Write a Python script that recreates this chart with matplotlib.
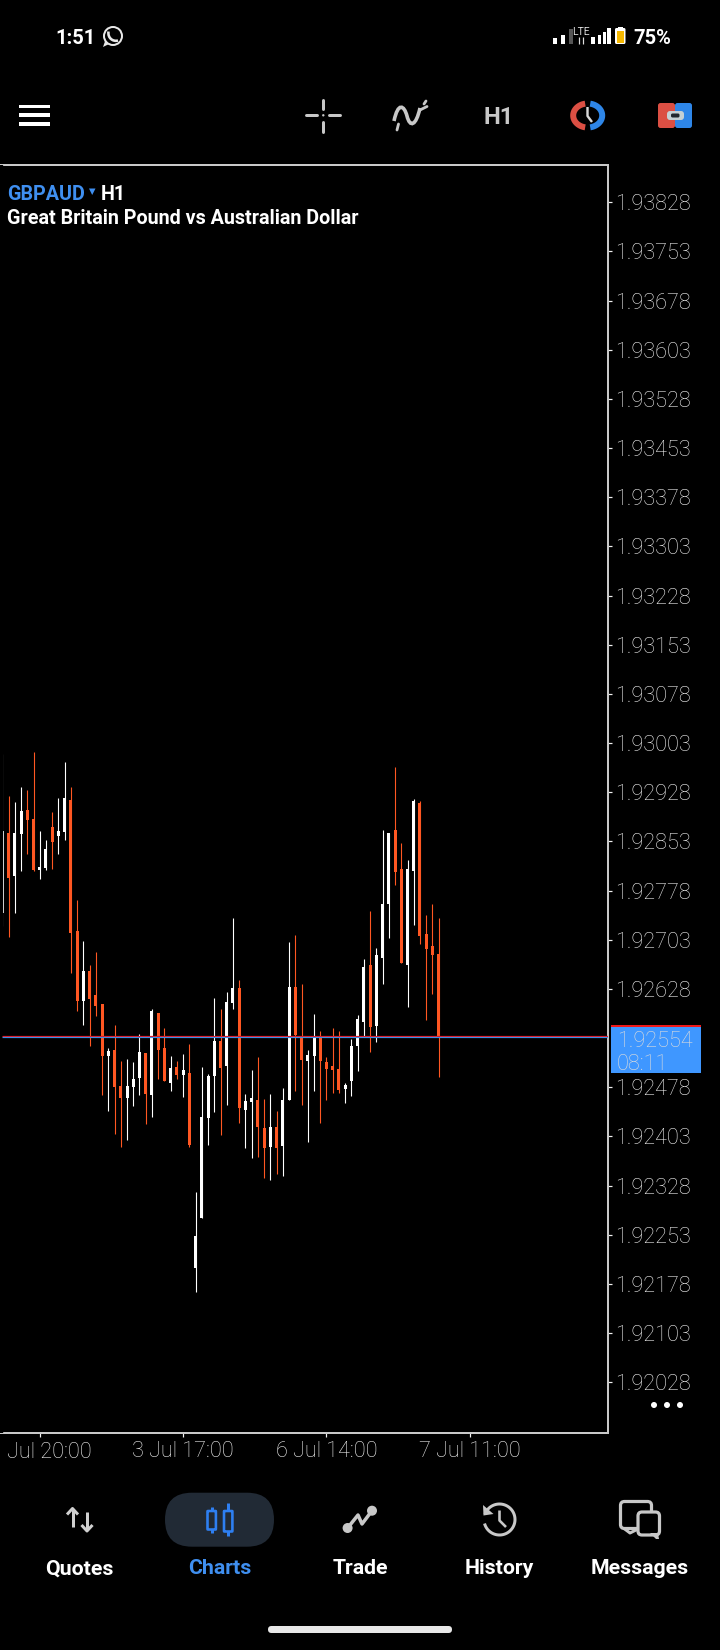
import numpy as np
import matplotlib
matplotlib.use("Agg")
import matplotlib.pyplot as plt
from matplotlib.patches import Circle, FancyBboxPatch, Rectangle, Polygon, PathPatch
from matplotlib.path import Path

plt.rcParams['font.family'] = ['Roboto', 'DejaVu Sans']

# hourly GBPAUD candles
opens = [1.92744, 1.92866, 1.92800, 1.92864, 1.92901, 1.92887, 1.92809, 1.92812, 1.92875, 1.92861,
         1.92867, 1.92916, 1.92716, 1.92610, 1.92655, 1.92619, 1.92605, 1.92526, 1.92535, 1.92480,
         1.92461, 1.92478, 1.92492, 1.92530, 1.92466, 1.92591, 1.92538, 1.92484, 1.92509, 1.92497,
         1.92500, 1.92202, 1.92278, 1.92431, 1.92495, 1.92549, 1.92510, 1.92607, 1.92630, 1.92444,
         1.92456, 1.92459, 1.92416, 1.92387, 1.92418, 1.92389, 1.92459, 1.92631, 1.92557, 1.92518,
         1.92526, 1.92553, 1.92517, 1.92511, 1.92506, 1.92476, 1.92488, 1.92541, 1.92578, 1.92665,
         1.92572, 1.92676, 1.92757, 1.92871, 1.92811, 1.92665, 1.92808, 1.92911, 1.92712, 1.92694,
         1.92682]
highs = [1.92986, 1.92922, 1.92913, 1.92936, 1.92931, 1.92989, 1.92869, 1.92855, 1.92898, 1.92919,
         1.92974, 1.92936, 1.92764, 1.92701, 1.92665, 1.92684, 1.92605, 1.92538, 1.92573, 1.92518,
         1.92521, 1.92516, 1.92559, 1.92530, 1.92597, 1.92591, 1.92568, 1.92526, 1.92518, 1.92529,
         1.92544, 1.92318, 1.92509, 1.92498, 1.92614, 1.92597, 1.92623, 1.92737, 1.92642, 1.92468,
         1.92505, 1.92524, 1.92460, 1.92468, 1.92442, 1.92477, 1.92700, 1.92711, 1.92636, 1.92535,
         1.92590, 1.92564, 1.92524, 1.92569, 1.92564, 1.92485, 1.92552, 1.92589, 1.92674, 1.92747,
         1.92691, 1.92871, 1.92866, 1.92967, 1.92850, 1.92824, 1.92918, 1.92914, 1.92741, 1.92757,
         1.92737]
lows = [1.92724, 1.92707, 1.92744, 1.92808, 1.92834, 1.92808, 1.92796, 1.92809, 1.92811, 1.92834,
        1.92855, 1.92652, 1.92594, 1.92573, 1.92541, 1.92587, 1.92466, 1.92442, 1.92407, 1.92387,
        1.92397, 1.92449, 1.92466, 1.92422, 1.92433, 1.92490, 1.92487, 1.92472, 1.92490, 1.92463,
        1.92387, 1.92166, 1.92278, 1.92390, 1.92440, 1.92405, 1.92451, 1.92598, 1.92424, 1.92386,
        1.92370, 1.92372, 1.92340, 1.92337, 1.92346, 1.92343, 1.92459, 1.92473, 1.92451, 1.92395,
        1.92473, 1.92424, 1.92459, 1.92470, 1.92470, 1.92454, 1.92464, 1.92503, 1.92557, 1.92532,
        1.92547, 1.92635, 1.92706, 1.92786, 1.92667, 1.92601, 1.92726, 1.92697, 1.92580, 1.92621,
        1.92494]
closes = [1.92869, 1.92797, 1.92866, 1.92899, 1.92886, 1.92809, 1.92814, 1.92841, 1.92852, 1.92869,
          1.92919, 1.92713, 1.92610, 1.92655, 1.92613, 1.92602, 1.92526, 1.92533, 1.92478, 1.92461,
          1.92480, 1.92490, 1.92532, 1.92468, 1.92594, 1.92535, 1.92487, 1.92507, 1.92497, 1.92504,
          1.92390, 1.92251, 1.92433, 1.92495, 1.92549, 1.92507, 1.92608, 1.92630, 1.92447, 1.92457,
          1.92460, 1.92418, 1.92386, 1.92418, 1.92386, 1.92459, 1.92631, 1.92558, 1.92520, 1.92528,
          1.92555, 1.92518, 1.92506, 1.92505, 1.92474, 1.92480, 1.92541, 1.92582, 1.92662, 1.92570,
          1.92680, 1.92758, 1.92866, 1.92807, 1.92668, 1.92811, 1.92914, 1.92709, 1.92689, 1.92680,
          1.92554]

bid = 1.92554
ask = 1.92557
price_ticks = [1.93828, 1.93753, 1.93678, 1.93603, 1.93528, 1.93453, 1.93378, 1.93303, 1.93228,
               1.93153, 1.93078, 1.93003, 1.92928, 1.92853, 1.92778, 1.92703, 1.92628, 1.92478,
               1.92403, 1.92328, 1.92253, 1.92178, 1.92103, 1.92028]
time_ticks = [6, 29, 52, 75]
time_labels = ["", "3 Jul 17:00", "6 Jul 14:00", "7 Jul 11:00"]
countdown = "08:11"
nav_names = ["Quotes", "Charts", "Trade", "History", "Messages"]

ORANGE = "#FF5722"
WHITE = "#FFFFFF"
GREY = "#C8C8C8"
BLUE = "#3F97FF"
AXIS_TXT = "#F0F0F0"
W, H = 720, 1650
px = 0.72  # 1 pixel in points at dpi 100

fig = plt.figure(figsize=(W / 100, H / 100), dpi=100, facecolor="black")

# ---------- chart ----------
ax = fig.add_axes([0, 1 - 1432.5 / H, 608 / W, (1432.5 - 165) / H], facecolor="black")
ax.set_xlim(-0.374, 97.16)
ax.set_ylim(1.919515, 1.938848)

x = np.arange(len(opens))
o, h, l, c = map(np.array, (opens, highs, lows, closes))
colors = np.where(c >= o, WHITE, ORANGE)
ax.vlines(x, l, h, colors=colors, linewidth=1.1 * px, zorder=2)
ax.bar(x, np.maximum(np.abs(c - o), 0.00005), bottom=np.minimum(o, c), width=3 / 6.234,
       color=colors, linewidth=0, zorder=3)
ax.axvspan(-0.374, -0.05, color="black", zorder=4)  # chart starts 2 px in from the screen edge

ax.hlines(ask, -0.05, 97.16, color="#E8141E", linewidth=1.2 * px, zorder=5)
ax.hlines(bid, -0.05, 97.16, color="#3F8FE8", linewidth=1.2 * px, zorder=5)

ax.spines["left"].set_visible(False)
for side in ("top", "right", "bottom"):
    ax.spines[side].set_color(GREY)
    ax.spines[side].set_linewidth(2 * px)
ax.yaxis.tick_right()
ax.set_yticks(price_ticks)
ax.set_yticklabels([f"{p:.5f}" for p in price_ticks], fontweight="light")
ax.tick_params(axis="y", colors=AXIS_TXT, labelsize=15.6, length=4 * px, width=1.2 * px, pad=2)
ax.set_xticks(time_ticks)
ax.set_xticklabels(time_labels, fontweight="light")
ax.tick_params(axis="x", colors=AXIS_TXT, labelsize=15.6, length=4 * px, width=1.2 * px, pad=3)

# ---------- screen furniture, in pixels ----------
ui = fig.add_axes([0, 0, 1, 1])
ui.set_xlim(0, W)
ui.set_ylim(H, 0)
ui.axis("off")
ui.set_zorder(5)


def stroke(xs, ys, color=GREY, lw=3, cap="butt", **kw):
    ui.plot(xs, ys, color=color, linewidth=lw * px, solid_capstyle=cap, solid_joinstyle="round", **kw)


def arc(cx, cy, rx, ry, a1, a2, color=GREY, lw=3, cap="butt"):
    t = np.radians(np.linspace(a1, a2, 60))
    stroke(cx + rx * np.cos(t), cy + ry * np.sin(t), color, lw, cap)


def rbox(x0, y0, w, h, r, fc, ec="none", lw=0, z=2):
    ui.add_patch(FancyBboxPatch((x0 + r, y0 + r), w - 2 * r, h - 2 * r,
                                boxstyle=f"round,pad={r},rounding_size={r}",
                                fc=fc, ec=ec, lw=lw * px, zorder=z))


def label(x0, y0, s, size=14, color=WHITE, weight="semibold", ha="left"):
    ui.text(x0, y0, s, color=color, fontsize=size, fontweight=weight, ha=ha, va="center_baseline")


# clipped first time label
label(92, 1449.5, "Jul 20:00", 15.6, AXIS_TXT, "light", "right")

# price box
ui.add_patch(Rectangle((611, 1026), 90, 47, fc=BLUE, ec="none"))
ui.add_patch(Rectangle((611, 1025), 90, 2.2, fc="#F01818", ec="none"))
label(617, 1039, f"{bid:.5f}", 15.6, "#DCDCDC", "light")
label(617, 1062, countdown, 15.6, "#DCDCDC", "light")
for cx in (654, 667, 680):
    ui.add_patch(Circle((cx, 1405), 3, fc=WHITE, ec="none"))

# symbol header
label(7, 192, "GBPAUD", 14.2, "#3F8FF0")
ui.add_patch(Polygon([[89, 188.5], [95.5, 188.5], [92.2, 195]], fc="#3F8FF0", ec="none"))
label(101, 192, "H1", 14.2)
label(7, 217, "Great Britain Pound vs Australian Dollar", 14.2)

# status bar
label(55, 36, "1:51", 14.5, WHITE, "bold")
ui.add_patch(Circle((113, 36), 9, fc="none", ec="#E8E8E8", lw=2 * px))
ui.add_patch(Polygon([[103, 47], [105.5, 40], [109, 44]], fc="#E8E8E8", ec="none"))
ui.add_patch(PathPatch(Path([(108.5, 31.5), (107.5, 38), (113, 42), (118, 40.5)],
                            [Path.MOVETO, Path.CURVE4, Path.CURVE4, Path.CURVE4]),
                       fc="none", ec="#E8E8E8", lw=2.6 * px))
for x0, top, col in [(553, 38, WHITE), (561, 35, WHITE), (568.5, 29, "#555555")]:
    ui.add_patch(Rectangle((x0, top), 4, 43.5 - top, fc=col, ec="none"))
ui.text(581, 32, "LTE", color="#DDDDDD", fontsize=7.5, ha="center", va="center")
stroke([578.5, 578.5], [37, 44], "#DDDDDD", 1.2)
stroke([583, 583], [37, 44], "#DDDDDD", 1.2)
for x0, top in [(591, 37), (597.5, 35), (602.5, 32), (607, 28)]:
    ui.add_patch(Rectangle((x0, top), 3.5, 43.5 - top, fc=WHITE, ec="none"))
rbox(615, 28, 10.5, 16, 1.5, WHITE)
ui.add_patch(Rectangle((618, 26.5), 4.5, 2, fc=WHITE, ec="none"))
ui.add_patch(Rectangle((616.5, 31), 7.5, 11.5, fc="#F5B800", ec="none", zorder=3))
label(633, 36, "75%", 14.5, WHITE, "bold")

# toolbar
for yy in (106.8, 115, 124):
    ui.add_patch(Rectangle((19, yy - 1.7), 31, 3.4, fc=WHITE, ec="none"))
stroke([306, 317], [115.3, 115.3], lw=3, cap="round")
stroke([329, 340], [115.3, 115.3], lw=3, cap="round")
stroke([323.3, 323.3], [100, 109], lw=3, cap="round")
stroke([323.3, 323.3], [122, 131.5], lw=3, cap="round")
ui.add_patch(Circle((323.3, 115.3), 1.2, fc=GREY, ec="none"))
ui.add_patch(PathPatch(Path([(394, 121), (398, 102), (404, 105), (407, 116),
                             (410, 128), (416, 126), (420, 108)],
                            [Path.MOVETO, Path.CURVE4, Path.CURVE4, Path.CURVE4,
                             Path.CURVE4, Path.CURVE4, Path.CURVE4]),
                       fc="none", ec=GREY, lw=3.6 * px))
stroke([420, 427], [110, 106.5], lw=2.8, cap="round")
stroke([424, 426], [104, 101], lw=2.8, cap="round")
stroke([397, 398.5], [130, 124], lw=2.8, cap="round")
label(498.8, 115, "H1", 17, GREY, "semibold", "center")
arc(587.7, 115.5, 14.5, 12, 100, 260, "#DB4F43", 6)
arc(587.7, 115.5, 14.5, 12, -80, 80, "#2E86E8", 6)
stroke([587.5, 587.5, 592], [107, 116, 122], "#D8D8D8", 2.4)
rbox(658, 103, 17, 25, 2.5, "#DB4F43")
rbox(675, 103, 17, 25, 2.5, "#2E86E8")
rbox(667, 111, 17, 9, 3, "#C4D0D4", z=3)
rbox(671, 113.5, 8.5, 4, 1.5, "#20282E", z=4)

# bottom navigation
rbox(165, 1492.7, 109, 54, 27, "#212A35")
nav_x = [79.4, 219.7, 360, 499.5, 639.6]
for name, nx in zip(nav_names, nav_x):
    label(nx, 1567, name, 15.3, "#3F8FF0" if name == "Charts" else WHITE, "bold", "center")

# quotes icon
NAVC = "#D0D0D0"
stroke([72.5, 72.5], [1510, 1527], NAVC, 3)
stroke([67, 72.5, 78], [1514.5, 1508.5, 1514.5], NAVC, 3)
stroke([87, 87], [1511.5, 1530], NAVC, 3)
stroke([81.5, 87, 92.5], [1525, 1531, 1525], NAVC, 3)
# charts icon
CB = "#2E7FF1"
stroke([211.7, 211.7], [1506.7, 1532.7], CB, 3)
rbox(207.5, 1511, 8.4, 18.5, 0.5, "#212A35", CB, 2.6, z=3)
stroke([228.2, 228.2], [1503, 1536], CB, 3)
rbox(224, 1511, 8.4, 20.5, 0.5, "#212A35", CB, 2.6, z=3)
# trade icon
stroke([347.6, 358, 362, 372], [1528, 1515, 1524, 1510.7], GREY, 3.5)
ui.add_patch(Circle((347.6, 1528), 5, fc=GREY, ec="none"))
ui.add_patch(Circle((372, 1510.7), 5, fc=GREY, ec="none"))
# history icon
arc(499.5, 1519.5, 15.5, 15.5, -160, 165, GREY, 3)
ui.add_patch(Polygon([[483, 1505], [483.5, 1515.5], [493.5, 1514]], fc=GREY, ec="none"))
stroke([499.5, 499.5, 506], [1510.5, 1520.5, 1527], GREY, 2.6)
# messages icon
rbox(620.5, 1501.5, 31, 27, 4, "none", GREY, 3.2)
stroke([624, 630, 639], [1528.5, 1533, 1528.5], GREY, 3)
rbox(638, 1512, 21.5, 23, 4, "black", GREY, 3.2, z=3)
ui.add_patch(Polygon([[650, 1533], [658, 1533], [659, 1539], [656, 1539]], fc=GREY, ec="none", zorder=4))

# home indicator
rbox(268, 1626, 184, 7, 3.5, "#E8E8E8")

fig.savefig("out.png", dpi=100, facecolor="black")
